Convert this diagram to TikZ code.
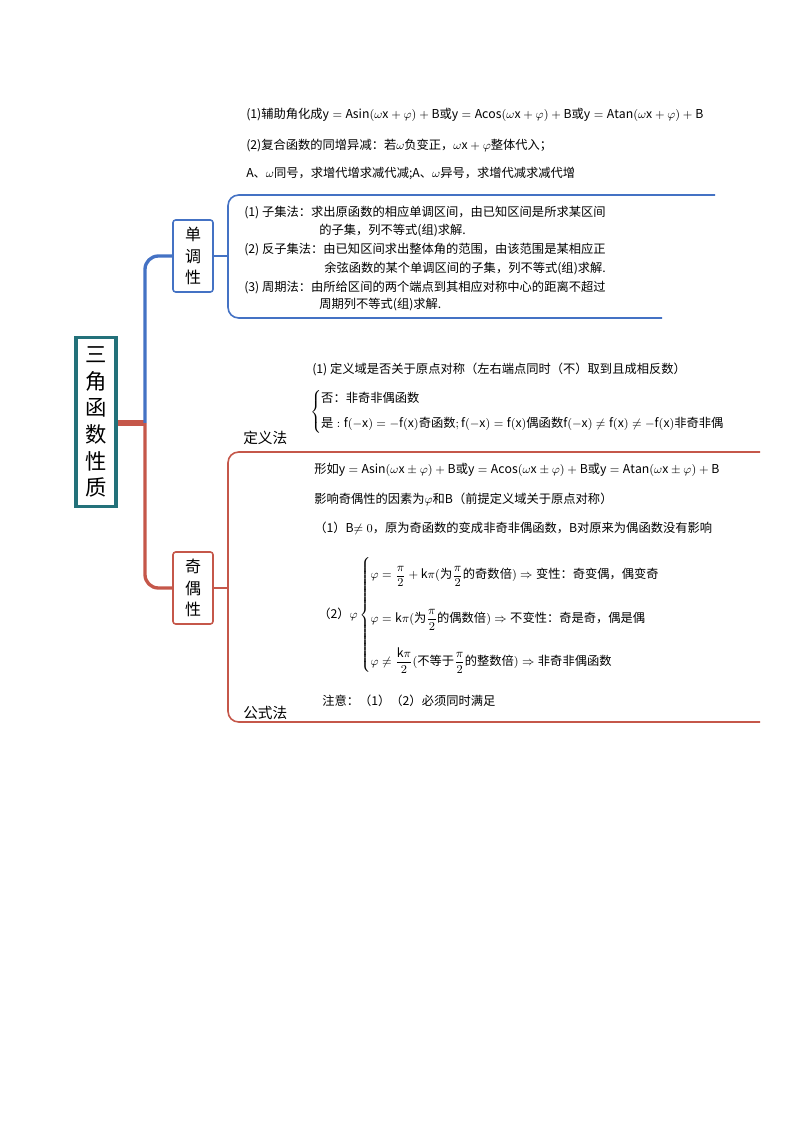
\documentclass[tikz,border=0pt]{standalone}
\usepackage{fontspec}
\setmainfont{Noto Sans CJK SC}
\usepackage{amsmath}
\definecolor{bl}{HTML}{4472C4}
\definecolor{rd}{HTML}{C5574A}
\definecolor{tl}{HTML}{23717A}
\begin{document}
\begin{tikzpicture}[x=0.75pt,y=-0.75pt,
  txt/.style={anchor=west,inner sep=0pt,font=\fontsize{9.2}{11}\selectfont},
  sbox/.style={draw,line width=1.2pt,rounded corners=2pt,minimum width=30pt,minimum height=52pt,inner sep=1pt,align=center,font=\fontsize{12}{16}\selectfont},
  lab/.style={anchor=west,inner sep=0pt,font=\fontsize{11}{13}\selectfont}]
\useasboundingbox (0,0) rectangle (794,1123);
\node[draw=tl,line width=2.5pt,minimum width=30pt,minimum height=127pt,inner sep=0pt,align=center,font=\fontsize{16}{20}\selectfont] (root) at (96,422) {三\\角\\函\\数\\性\\质};
\node[sbox,draw=bl,minimum height=54pt] (dd) at (193,256) {单\\调\\性};
\node[sbox,draw=rd,minimum height=54pt] (jo) at (193,588) {奇\\偶\\性};
\coordinate (st) at (145,423);
\draw[rd,line width=4pt] (root.east|-st) -- (st);
\draw[bl,line width=2.5pt,rounded corners=10pt] (st) -- (145,256) -- (dd.west);
\draw[rd,line width=2.5pt,rounded corners=10pt] (st) -- (145,588) -- (jo.west);
% blue bracket
\coordinate (bt) at (715,195); \coordinate (bb) at (662,318);
\draw[bl,line width=1.2pt,rounded corners=8pt] (bt) -- (228,195) -- (228,318) -- (bb);
\draw[bl,line width=1.2pt] (dd.east) -- (228,256);
% red bracket
\coordinate (rt) at (760,452); \coordinate (rb) at (760,722);
\draw[rd,line width=1.2pt,rounded corners=8pt] (rt) -- (228,452) -- (228,722) -- (rb);
\draw[rd,line width=1.2pt] (jo.east) -- (228,588);
% texts top
\node[txt] (t1) at (246,115) {(1)辅助角化成$\mathrm{y=Asin(\omega x+\varphi)+B}$或$\mathrm{y=Acos(\omega x+\varphi)+B}$或$\mathrm{y=Atan(\omega x+\varphi)+B}$};
\node[txt] (t2) at (246,145) {(2)复合函数的同增异减：若$\omega$负变正，$\omega\mathrm{x}+\varphi$整体代入；};
\node[txt] (t3) at (246,174) {A、$\omega$同号，求增代增求减代减;A、$\omega$异号，求增代减求减代增};
\node[txt] (m1) at (244,213) {(1) 子集法：求出原函数的相应单调区间，由已知区间是所求某区间};
\node[txt] (m2) at (319,231) {的子集，列不等式(组)求解.};
\node[txt] (m3) at (244,250) {(2) 反子集法：由已知区间求出整体角的范围，由该范围是某相应正};
\node[txt] (m4) at (324,268) {余弦函数的某个单调区间的子集，列不等式(组)求解.};
\node[txt] (m5) at (244,287) {(3) 周期法：由所给区间的两个端点到其相应对称中心的距离不超过};
\node[txt] (m6) at (319,305) {周期列不等式(组)求解.};
% definition
\node[txt] (d1) at (312,369) {(1) 定义域是否关于原点对称（左右端点同时（不）取到且成相反数）};
\node[txt] (d2) at (310,412) {$\left\{\begin{array}{@{}l@{}}\mbox{否：非奇非偶函数}\\[8pt]\mbox{是}:\mathrm{f(-x)=-f(x)}\mbox{奇函数};\mathrm{f(-x)=f(x)}\mbox{偶函数}\mathrm{f(-x)\neq f(x)\neq -f(x)}\mbox{非奇非偶}\end{array}\right.$};
\node[lab] (dl) at (243,438) {定义法};
% formula
\node[txt] (f1) at (314,470) {形如$\mathrm{y=Asin(\omega x\pm\varphi)+B}$或$\mathrm{y=Acos(\omega x\pm\varphi)+B}$或$\mathrm{y=Atan(\omega x\pm\varphi)+B}$};
\node[txt] (f2) at (314,499) {影响奇偶性的因素为$\varphi$和B（前提定义域关于原点对称）};
\node[txt] (f3) at (314,528) {（1）B$\neq0$，原为奇函数的变成非奇非偶函数，B对原来为偶函数没有影响};
\node[txt] (f4) at (318,615) {（2）$\varphi\left\{\renewcommand{\arraystretch}{2.4}\begin{array}{@{}l@{}}\varphi=\dfrac{\pi}{2}+\mathrm{k}\pi(\mbox{为}\dfrac{\pi}{2}\mbox{的奇数倍})\Rightarrow\mbox{变性：奇变偶，偶变奇}\\[6pt]\varphi=\mathrm{k}\pi(\mbox{为}\dfrac{\pi}{2}\mbox{的偶数倍})\Rightarrow\mbox{不变性：奇是奇，偶是偶}\\[6pt]\varphi\neq\dfrac{\mathrm{k}\pi}{2}(\mbox{不等于}\dfrac{\pi}{2}\mbox{的整数倍})\Rightarrow\mbox{非奇非偶函数}\end{array}\right.$};
\node[txt] (f5) at (322,701) {注意：（1）（2）必须同时满足};
\node[lab] (fl) at (243,713) {公式法};
\end{tikzpicture}
\end{document}
